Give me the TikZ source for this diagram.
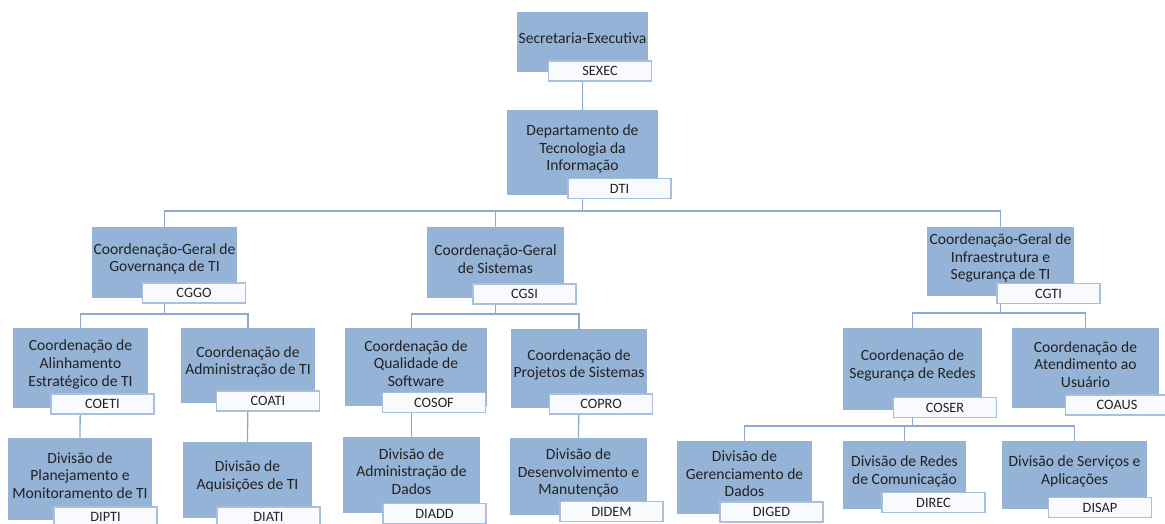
\documentclass[tikz,border=0pt]{standalone}
\usepackage{fontspec}
\setmainfont{Carlito}
\usetikzlibrary{backgrounds}
\definecolor{boxblue}{HTML}{95B3D7}
\definecolor{tagedge}{HTML}{A8BFDD}
\definecolor{tagfill}{HTML}{F8FAFD}
\definecolor{linkcol}{HTML}{8EA9CE}
\definecolor{txtcol}{HTML}{222222}
\tikzset{
  bluebox/.style={rectangle, fill=boxblue, draw=none, inner sep=0pt},
  boxtext/.style={align=center, text=txtcol, font=\fontsize{15.6}{17.6}\selectfont, inner sep=0pt},
  tagbox/.style={rectangle, fill=tagfill, draw=tagedge, line width=1.2pt, minimum width=103pt, minimum height=20pt, inner sep=0pt, text=txtcol, font=\fontsize{14.3}{16}\selectfont},
  link/.style={draw=linkcol, line width=1.3pt}
}
\newcommand\orgbox[6]{%
  \node[bluebox, minimum width=#4pt, minimum height=#5pt] (#1) at (#2,#3) {};
  \node[boxtext] (#1-t) at ([yshift=3.5pt]#1.center) {#6};}
\newcommand\orgtag[4]{%
  \node[tagbox] (#1) at (#2,#3) {#4};}
\begin{document}
\begin{tikzpicture}[x=1pt,y=-1pt]
\useasboundingbox (0,0) rectangle (1165,523);
\clip (0,0) rectangle (1165,523);
% units
\orgbox{sexec}{582.5}{42}{131}{60}{Secretaria-Executiva}
\orgtag{sexecL}{600}{71}{SEXEC}
\orgbox{dti}{582.5}{152.5}{151}{85}{Departamento de\\Tecnologia da\\Informação}
\orgtag{dtiL}{619.5}{188.5}{DTI}
\orgbox{cggo}{164.5}{262.5}{145}{71}{Coordenação-Geral de\\Governança de TI}
\orgtag{cggoL}{194}{293}{CGGO}
\orgbox{cgsi}{495.5}{262.5}{137}{71}{Coordenação-Geral\\de Sistemas}
\orgtag{cgsiL}{524.5}{294}{CGSI}
\orgbox{cgti}{1000.5}{261.5}{147}{69}{Coordenação-Geral de\\Infraestrutura e\\Segurança de TI}
\orgtag{cgtiL}{1048.5}{293.5}{CGTI}
\orgbox{coeti}{80.5}{368}{135}{80}{Coordenação de\\Alinhamento\\Estratégico de TI}
\orgtag{coetiL}{102.5}{404}{COETI}
\orgbox{coati}{248}{365.5}{134}{75}{Coordenação de\\Administração de TI}
\orgtag{coatiL}{268}{401}{COATI}
\orgbox{cosof}{416}{367}{142}{78}{Coordenação de\\Qualidade de\\Software}
\orgtag{cosofL}{434}{402.5}{COSOF}
\orgbox{copro}{579}{368.5}{136}{79}{Coordenação de\\Projetos de Sistemas}
\orgtag{coproL}{601}{404}{COPRO}
\orgbox{coser}{912.5}{369}{139}{82}{Coordenação de\\Segurança de Redes}
\orgtag{coserL}{945}{407.5}{COSER}
\orgbox{coaus}{1085.5}{368}{147}{80}{Coordenação de\\Atendimento ao\\Usuário}
\orgtag{coausL}{1117}{405}{COAUS}
\orgbox{dipti}{80}{479}{144}{82}{Divisão de\\Planejamento e\\Monitoramento de TI}
\orgtag{diptiL}{105.5}{517}{DIPTI}
\orgbox{diati}{247.5}{480}{129}{76}{Divisão de\\Aquisições de TI}
\orgtag{diatiL}{268.5}{517}{DIATI}
\orgbox{diadd}{411.5}{475}{137}{76}{Divisão de\\Administração de\\Dados}
\orgtag{diaddL}{434.5}{513.5}{DIADD}
\orgbox{didem}{578.5}{476.5}{137}{77}{Divisão de\\Desenvolvimento e\\Manutenção}
\orgtag{didemL}{611.5}{511.5}{DIDEM}
\orgbox{diged}{744.5}{477.5}{135}{73}{Divisão de\\Gerenciamento de\\Dados}
\orgtag{digedL}{771.5}{512}{DIGED}
\orgbox{direc}{904.5}{475}{123}{68}{Divisão de Redes\\de Comunicação}
\orgtag{direcL}{933.5}{502.5}{DIREC}
\orgbox{disap}{1074.5}{475}{145}{68}{Divisão de Serviços e\\Aplicações}
\orgtag{disapL}{1100}{507.5}{DISAP}
% bus levels
\coordinate (busA) at (0,211);
\coordinate (busB) at (0,314);
\coordinate (busC) at (0,313);
\coordinate (busD) at (0,426);
% connectors
\begin{scope}[on background layer]
\draw[link] (sexec.center) -- (dti.north);
\draw[link] (dti.center) -- (dti.center |- busA) -| (cggo.north);
\draw[link] (dti.center |- busA) -| (cgsi.north);
\draw[link] (dti.center |- busA) -| (cgti.north);
\draw[link] (cggo.center) -- (cggo.center |- busB) -| (coeti.north);
\draw[link] (cggo.center |- busB) -| (coati.north);
\draw[link] (cgsi.center) -- (cgsi.center |- busB) -| (diadd.center |- cosof.north);
\draw[link] (cgsi.center |- busB) -| (copro.north);
\draw[link] (cgti.center) -- (cgti.center |- busC) -| (coser.north);
\draw[link] (cgti.center |- busC) -| (coaus.north);
\draw[link] (coeti.center) -- (dipti.north);
\draw[link] (coati.center) -- (diati.north);
\draw[link] (diadd.center |- cosof.center) -- (diadd.north);
\draw[link] (copro.center) -- (didem.north);
\draw[link] (coser.center) -- (coser.center |- busD) -| (diged.north);
\draw[link] (coser.center |- busD) -| (direc.north);
\draw[link] (coser.center |- busD) -| (disap.north);
\end{scope}
\end{tikzpicture}
\end{document}
